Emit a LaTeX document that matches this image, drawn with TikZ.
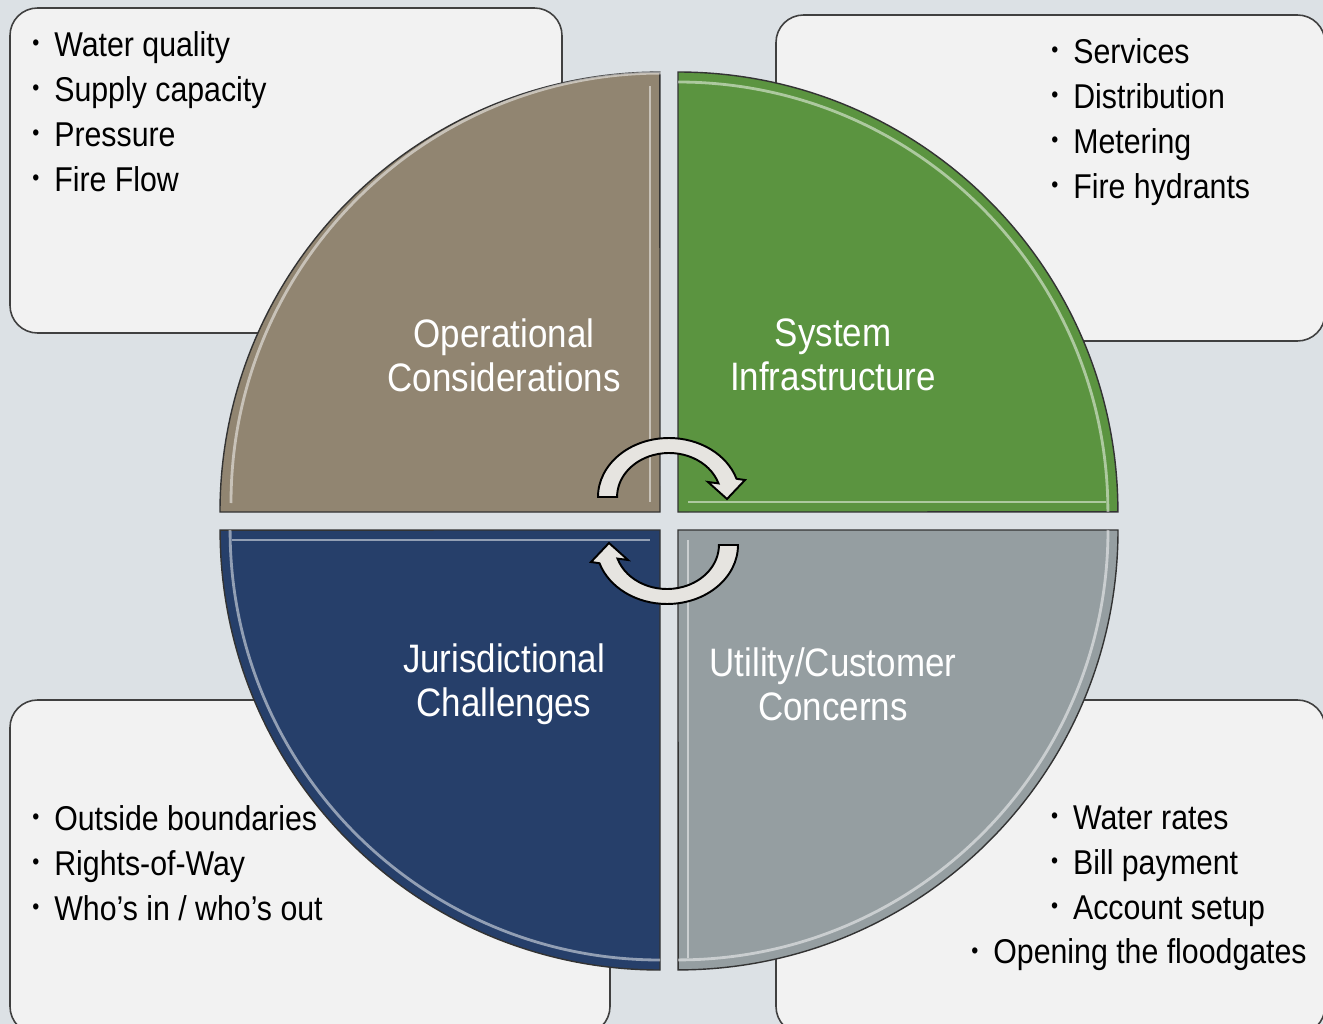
\documentclass[tikz,border=0pt]{standalone}
\usepackage{fontspec}
\setmainfont[FakeStretch=0.88]{Liberation Sans}
\usetikzlibrary{positioning}

\definecolor{bgblue}{HTML}{DCE1E5}
\definecolor{boxgray}{HTML}{F2F2F2}
\definecolor{opstan}{HTML}{918571}
\definecolor{sysgreen}{HTML}{5B9440}
\definecolor{jurnavy}{HTML}{263F6A}
\definecolor{utilgray}{HTML}{959EA1}
\definecolor{arrowgray}{HTML}{E6E4E0}

\newcommand{\itm}{{\fontsize{13}{13}\selectfont\raisebox{0.45ex}{\textbullet}}\hspace{8.5pt}}

\begin{document}
\begin{tikzpicture}[x=0.02cm, y=-0.02cm,
    box/.style={draw=black!75, line width=0.9pt, fill=boxgray, rounded corners=0.55cm},
    quarter/.style={draw=black!80, line width=0.8pt},
    shine/.style={draw=white, opacity=0.5, line width=1.6pt},
    title/.style={text=white, align=center, inner sep=0pt, font=\fontsize{22.6}{25}\selectfont},
    list/.style={anchor=north west, align=left, inner sep=0pt, font=\fontsize{19.6}{25.6}\selectfont},
    turn/.style={draw=black, line width=1.1pt, fill=arrowgray}]
    \useasboundingbox (0,0) rectangle (1323,1024);
    \fill[bgblue] (0,0) rectangle (1323,1024);
    \clip (0,0) rectangle (1323,1024);

    % boxes behind the disc
    \path[box] (10,8) rectangle (562,333);
    \path[box] (776,15) rectangle (1325,341);
    \path[box] (10,700) rectangle (610,1034);
    \path[box] (776,700) rectangle (1325,1034);

    % the four quarters
    \path[quarter, fill=opstan] (660,512) -- (220,512) arc[start angle=180, end angle=90, radius=8.8cm] -- cycle;
    \path[quarter, fill=sysgreen] (678,512) -- (678,72) arc[start angle=90, end angle=0, radius=8.8cm] -- cycle;
    \path[quarter, fill=jurnavy] (660,530) -- (660,970) arc[start angle=270, end angle=180, radius=8.8cm] -- cycle;
    \path[quarter, fill=utilgray] (678,530) -- (1118,530) arc[start angle=0, end angle=-90, radius=8.8cm] -- cycle;

    % bevel light
    \draw[shine] (231,503) arc[start angle=180, end angle=90, radius=8.6cm];
    \draw[shine] (650,86) -- (650,502);
    \draw[shine] (678,82) arc[start angle=90, end angle=0, radius=8.6cm];
    \draw[shine] (688,502) -- (1106,502);
    \draw[shine] (660,960) arc[start angle=270, end angle=180, radius=8.6cm];
    \draw[shine] (232,540) -- (650,540);
    \draw[shine] (1108,530) arc[start angle=0, end angle=-90, radius=8.6cm];
    \draw[shine] (688,540) -- (688,958);

    % titles
    \node (ops) [title] at (504,355) {Operational\\Considerations};
    \node (sys) [title] at (833,355) {System\\Infrastructure};
    \node (jur) [title] at (504,684) {Jurisdictional\\Challenges};
    \node (util) [title] at (833,684) {Utility/Customer\\Concerns};

    % lists
    \node (opslist) [list] at (32,31) {\itm Water quality\\\itm Supply capacity\\\itm Pressure\\\itm Fire Flow};
    \node (syslist) [list] at (1051,38) {\itm Services\\\itm Distribution\\\itm Metering\\\itm Fire hydrants};
    \node (jurlist) [list] at (32,805) {\itm Outside boundaries\\\itm Rights-of-Way\\\itm Who’s in / who’s out};
    \node (utillist) [list] at (971,805) {\hspace{45.4pt}\itm Water rates\\\hspace{45.4pt}\itm Bill payment\\\hspace{45.4pt}\itm Account setup\\\itm Opening the floodgates};

    % turning arrows
    \draw[turn] (598,497) arc[start angle=180, end angle=18, x radius=1.42cm, y radius=1.18cm] -- (745,480) -- (727,499) -- (708,482) -- (718.5,483.4) arc[start angle=18, end angle=180, x radius=1.04cm, y radius=0.88cm] -- cycle;
    \draw[turn] (738,545) arc[start angle=0, end angle=-162, x radius=1.42cm, y radius=1.18cm] -- (591,562) -- (609,543) -- (628,560) -- (617.5,558.6) arc[start angle=-162, end angle=0, x radius=1.04cm, y radius=0.88cm] -- cycle;
\end{tikzpicture}
\end{document}
